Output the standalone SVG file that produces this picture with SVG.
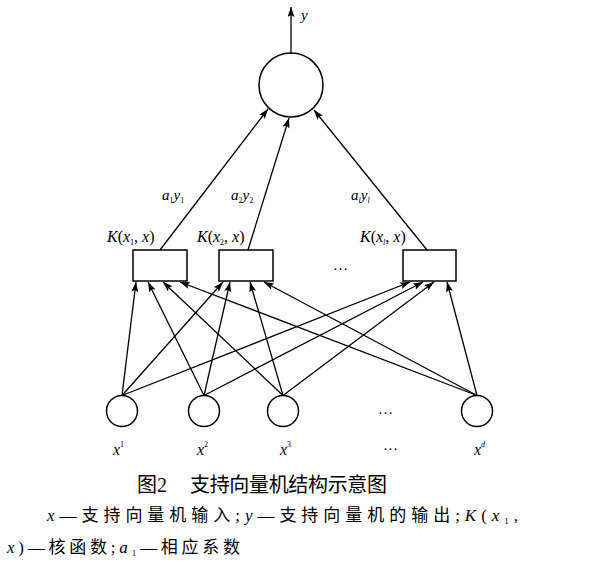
<svg xmlns="http://www.w3.org/2000/svg" width="598" height="578" viewBox="0 0 598 578">
<style>
.n{fill:#fff;stroke:#000;stroke-width:1.5}
.c line{stroke:#000;stroke-width:1.3;marker-end:url(#ah)}
.t{font-family:"Liberation Serif","Noto Sans CJK SC",serif;fill:#000}
.i{font-style:italic}
</style>
<defs>
<marker id="ah" markerUnits="userSpaceOnUse" markerWidth="11" markerHeight="8" refX="10" refY="3.5" orient="auto">
<path d="M0,0 L10,3.5 L0,7 L2,3.5 z" fill="#000"/>
</marker>
</defs>
<rect width="598" height="578" fill="#fff"/>
<g id="output"><circle class="n" cx="291" cy="85" r="32"/></g>
<g id="k1"><rect class="n" x="133" y="250" width="54" height="31"/></g>
<g id="k2"><rect class="n" x="219" y="250" width="54" height="31"/></g>
<g id="kl"><rect class="n" x="403" y="250" width="53" height="31"/></g>
<g id="in1"><circle class="n" cx="122" cy="411" r="15.5"/></g>
<g id="in2"><circle class="n" cx="204" cy="411" r="15.5"/></g>
<g id="in3"><circle class="n" cx="283" cy="411" r="15.5"/></g>
<g id="ind"><circle class="n" cx="477" cy="411" r="15.5"/></g>
<g class="c" id="connectors">
<line x1="291" y1="53" x2="291" y2="7"/>
<line x1="160" y1="250" x2="268" y2="109"/>
<line x1="248" y1="250" x2="289" y2="118"/>
<line x1="427" y1="250" x2="314" y2="110"/>
<line x1="122" y1="395.5" x2="136" y2="282"/>
<line x1="122" y1="395.5" x2="223" y2="282"/>
<line x1="122" y1="395.5" x2="410" y2="282"/>
<line x1="204" y1="395.5" x2="148" y2="282"/>
<line x1="204" y1="395.5" x2="230" y2="282"/>
<line x1="204" y1="395.5" x2="423" y2="282"/>
<line x1="283" y1="395.5" x2="163" y2="282"/>
<line x1="283" y1="395.5" x2="250" y2="282"/>
<line x1="283" y1="395.5" x2="434" y2="282"/>
<line x1="477" y1="395.5" x2="180" y2="282"/>
<line x1="477" y1="395.5" x2="264" y2="282"/>
<line x1="477" y1="395.5" x2="447" y2="282"/>
</g>
<g class="t" font-size="15">
<text x="301" y="20" class="i">y</text>
<text x="162" y="200"><tspan class="i">a</tspan><tspan font-size="8" dy="3">1</tspan><tspan class="i" dy="-3">y</tspan><tspan font-size="8" dy="3">1</tspan></text>
<text x="231" y="200"><tspan class="i">a</tspan><tspan font-size="8" dy="3">2</tspan><tspan class="i" dy="-3">y</tspan><tspan font-size="8" dy="3">2</tspan></text>
<text x="351" y="200"><tspan class="i">a</tspan><tspan font-size="8" class="i" dy="3">l</tspan><tspan class="i" dy="-3">y</tspan><tspan font-size="8" class="i" dy="3">l</tspan></text>
<text x="107" y="242" font-size="16"><tspan class="i">K</tspan>(<tspan class="i">x</tspan><tspan font-size="8" dy="3">1</tspan><tspan dy="-3">, </tspan><tspan class="i">x</tspan>)</text>
<text x="197" y="242" font-size="16"><tspan class="i">K</tspan>(<tspan class="i">x</tspan><tspan font-size="8" dy="3">2</tspan><tspan dy="-3">, </tspan><tspan class="i">x</tspan>)</text>
<text x="360" y="242" font-size="16"><tspan class="i">K</tspan>(<tspan class="i">x</tspan><tspan font-size="8" class="i" dy="3">l</tspan><tspan dy="-3">, </tspan><tspan class="i">x</tspan>)</text>
<text x="333" y="270">…</text>
<text x="378" y="414">…</text>
<text x="383" y="450">…</text>
<text x="113" y="455" font-size="16"><tspan class="i">x</tspan><tspan font-size="8" dy="-8">1</tspan></text>
<text x="197" y="455" font-size="16"><tspan class="i">x</tspan><tspan font-size="8" dy="-8">2</tspan></text>
<text x="280" y="455" font-size="16"><tspan class="i">x</tspan><tspan font-size="8" dy="-8">3</tspan></text>
<text x="474" y="455" font-size="16"><tspan class="i">x</tspan><tspan font-size="8" class="i" dy="-8">d</tspan></text>
</g>
<g class="t">
<text x="137" y="492" font-size="20">图2</text>
<text x="190" y="492" font-size="20" textLength="197" lengthAdjust="spacing">支持向量机结构示意图</text>
<text x="47" y="521" font-size="17" textLength="471" lengthAdjust="spacing"><tspan class="i">x</tspan>—支持向量机输入;<tspan class="i">y</tspan>—支持向量机的输出;<tspan class="i">K</tspan>(<tspan class="i">x</tspan><tspan font-size="9" dy="3">1</tspan><tspan dy="-3">,</tspan></text>
<text x="7" y="553" font-size="17" textLength="233" lengthAdjust="spacing"><tspan class="i">x</tspan>)—核函数;<tspan class="i">a</tspan><tspan font-size="9" dy="3">1</tspan><tspan dy="-3">—相应系数</tspan></text>
</g>
</svg>
